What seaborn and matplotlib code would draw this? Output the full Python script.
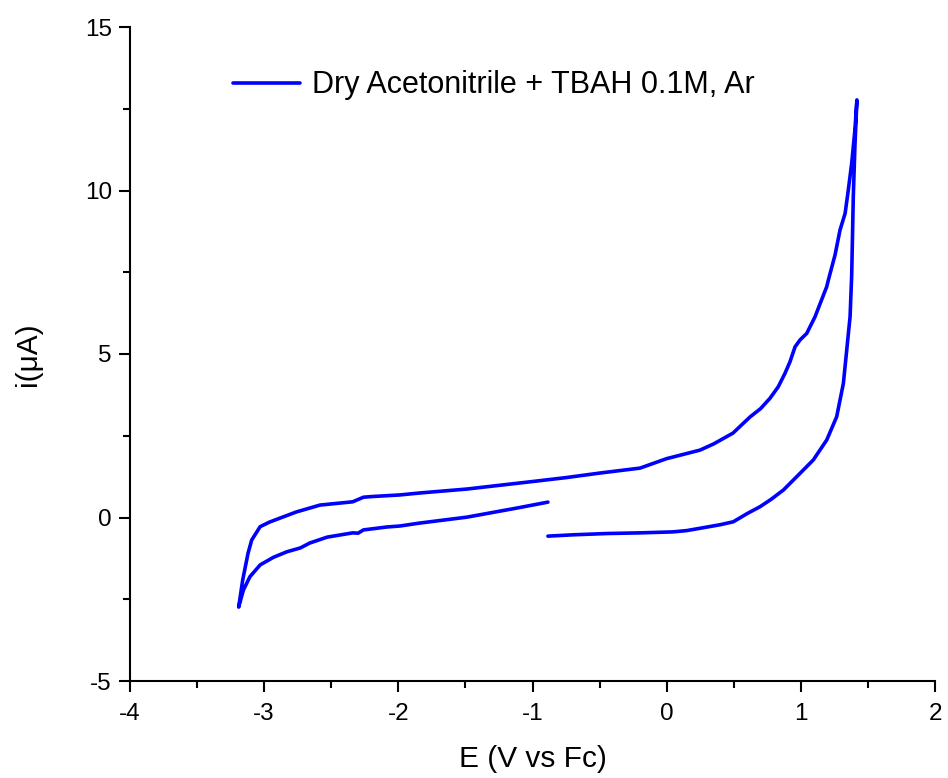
import numpy as np
import pandas as pd
import matplotlib
matplotlib.use("Agg")
import matplotlib.pyplot as plt
from matplotlib.ticker import MultipleLocator
import seaborn as sns

# Cyclic voltammogram, traced in sweep order
E_fwd = [-0.885, -0.70, -0.445, -0.20, 0.047, 0.15, 0.248, 0.40, 0.497, 0.60,
         0.696, 0.78, 0.87, 0.994, 1.093, 1.193, 1.267, 1.317, 1.342, 1.367,
         1.379, 1.391, 1.403, 1.418]
I_fwd = [-0.57, -0.53, -0.49, -0.47, -0.44, -0.40, -0.33, -0.22, -0.13, 0.12,
         0.33, 0.56, 0.84, 1.35, 1.76, 2.37, 3.08, 4.10, 5.12, 6.14,
         7.40, 9.81, 11.34, 12.77]

E_rev = [1.403, 1.379, 1.354, 1.33, 1.292, 1.255, 1.205, 1.193, 1.106, 1.044,
         0.994, 0.957, 0.919, 0.882, 0.832, 0.770, 0.70, 0.62, 0.494, 0.35,
         0.248, 0.0, -0.199, -0.497, -0.75, -1.0, -1.49, -1.84, -1.988, -2.20,
         -2.26, -2.34, -2.584, -2.76, -2.857, -2.96, -3.03, -3.093, -3.12,
         -3.16, -3.19]
I_rev = [11.85, 10.83, 10.02, 9.30, 8.79, 8.03, 7.26, 7.06, 6.14, 5.63,
         5.43, 5.22, 4.76, 4.41, 4.00, 3.645, 3.33, 3.07, 2.58, 2.25,
         2.06, 1.80, 1.51, 1.36, 1.22, 1.10, 0.87, 0.75, 0.69, 0.64,
         0.62, 0.48, 0.38, 0.17, 0.02, -0.14, -0.28, -0.69, -1.09,
         -1.91, -2.74]

E_ret = [-3.155, -3.106, -3.03, -2.932, -2.832, -2.73, -2.66, -2.53, -2.34,
         -2.30, -2.26, -2.085, -1.988, -1.84, -1.49, -1.115, -0.885]
I_ret = [-2.22, -1.81, -1.45, -1.22, -1.05, -0.93, -0.78, -0.60, -0.47,
         -0.48, -0.38, -0.29, -0.26, -0.17, 0.01, 0.29, 0.47]

series_label = "Dry Acetonitrile + TBAH 0.1M, Ar"
x_label = "E (V vs Fc)"
y_label = "i(\u03bcA)"

df = pd.DataFrame({
    "E": E_fwd + E_rev + E_ret,
    "I": I_fwd + I_rev + I_ret,
})
df["series"] = series_label

sns.set_style("ticks")
plt.rcParams["font.family"] = ["Liberation Sans", "DejaVu Sans"]
plt.rcParams["axes.unicode_minus"] = False
plt.rcParams["text.color"] = "black"
plt.rcParams["axes.labelcolor"] = "black"
plt.rcParams["xtick.color"] = "black"
plt.rcParams["ytick.color"] = "black"

fig = plt.figure(figsize=(9.48, 7.78), dpi=100)
ax = fig.add_axes([130 / 948, 1 - 681 / 778, 805 / 948, 654 / 778])

sns.lineplot(data=df, x="E", y="I", hue="series", palette=["#0000ff"],
             sort=False, estimator=None, linewidth=2.6, ax=ax)
for ln in ax.get_lines():
    ln.set_solid_joinstyle("round")

ax.set_xlim(-4, 2)
ax.set_ylim(-5, 15)
ax.xaxis.set_major_locator(MultipleLocator(1))
ax.xaxis.set_minor_locator(MultipleLocator(0.5))
ax.yaxis.set_major_locator(MultipleLocator(5))
ax.yaxis.set_minor_locator(MultipleLocator(2.5))

for side in ["top", "right"]:
    ax.spines[side].set_visible(False)
for side in ["left", "bottom"]:
    ax.spines[side].set_linewidth(1.5)
    ax.spines[side].set_color("black")

ax.tick_params(which="major", direction="out", length=8, width=1.5,
               labelsize=17.5, colors="black")
ax.tick_params(axis="y", which="major", pad=5)
ax.tick_params(axis="x", which="major", pad=8)
ax.tick_params(which="minor", direction="out", length=5, width=1.5)

ax.set_xlabel(x_label, fontsize=21.5, labelpad=14)
ax.set_ylabel(y_label, fontsize=21.5, labelpad=31)

leg = ax.legend(loc="center left", bbox_to_anchor=(0.128, 0.911),
                frameon=False, fontsize=22, handlelength=2.2,
                handletextpad=0.4, borderpad=0, borderaxespad=0)
for h in leg.get_lines():
    h.set_linewidth(2.6)

fig.savefig("out.png", dpi=100)
